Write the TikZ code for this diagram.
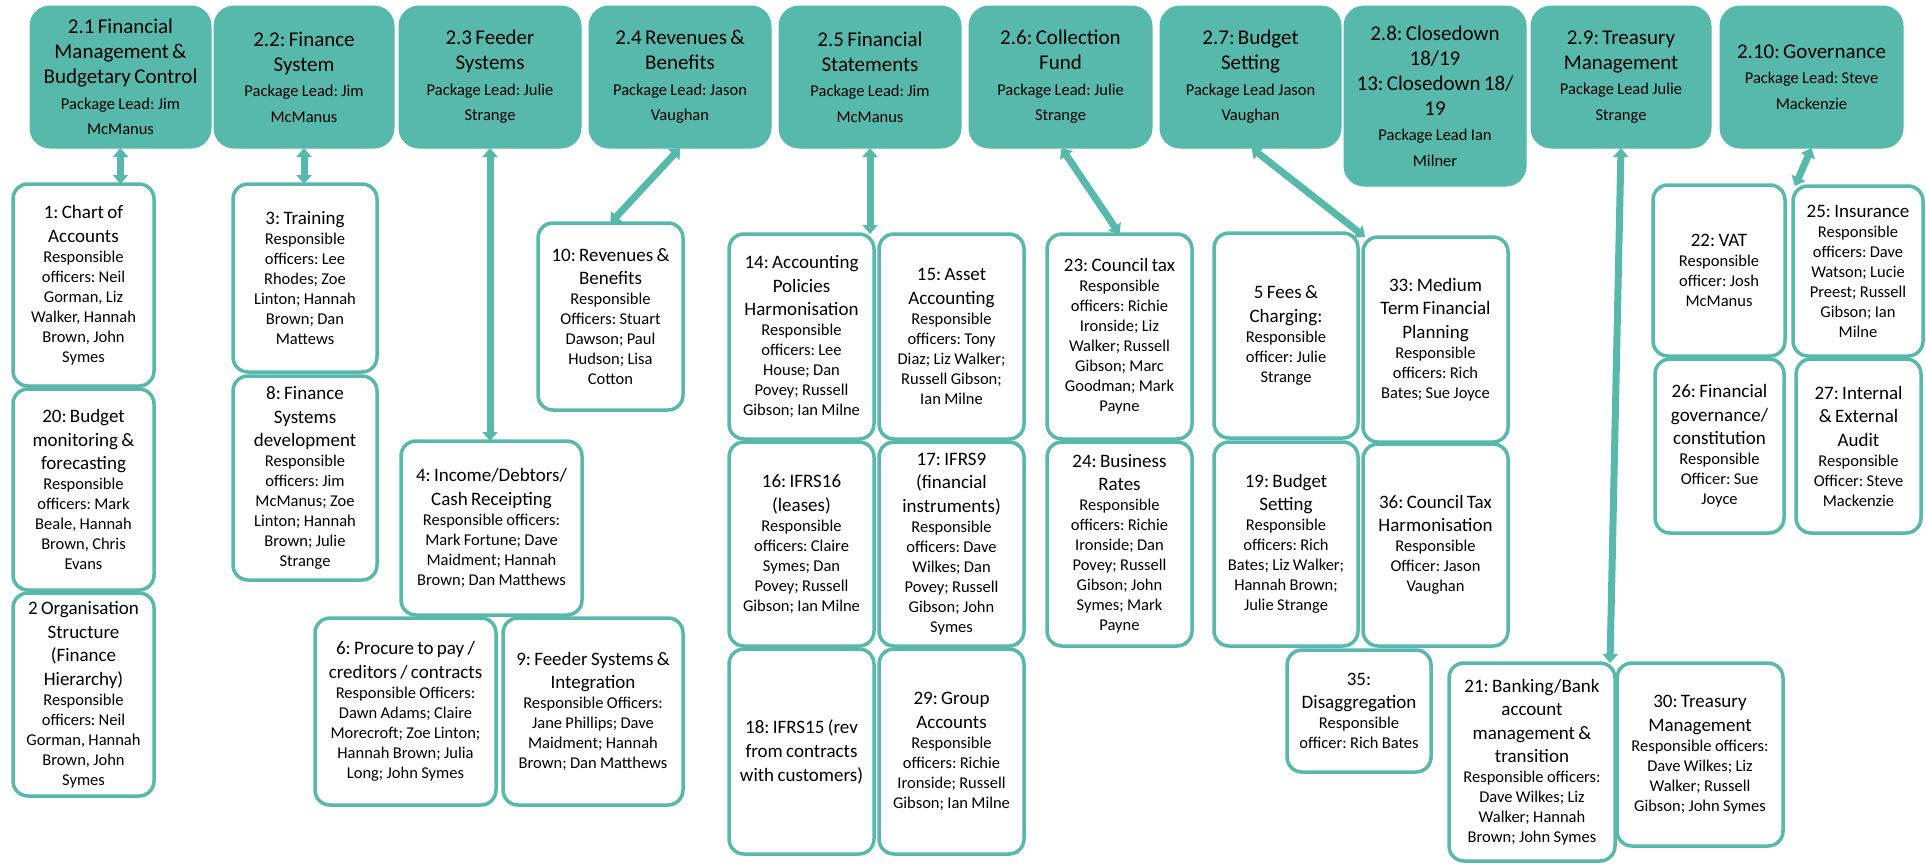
\documentclass[tikz,border=0pt]{standalone}
\usepackage{fontspec}
\setmainfont{Carlito}
\usetikzlibrary{arrows.meta}
\definecolor{teal0}{RGB}{86,185,172}
\frenchspacing

% text of a work package box: title lines, then the responsible officers
\newcommand{\ptxt}[2]{\fontsize{19}{23.5}\selectfont #1\par\fontsize{16.5}{20}\selectfont #2\par}
% text of a package header: title lines, then the package lead
\newcommand{\htxt}[2]{\fontsize{21}{25}\selectfont #1\par\fontsize{16.5}{25.5}\selectfont #2\par}

% \pkg[style]{name}{x1}{y1}{x2}{y2}{text}: a box spanning the given corners
\newcommand{\pkg}[7][]{%
  \pgfmathsetmacro{\pkW}{#5-#3}%
  \pgfmathsetmacro{\pkH}{#6-#4}%
  \pgfmathsetmacro{\pkX}{(#3+#5)/2}%
  \pgfmathsetmacro{\pkY}{(#4+#6)/2}%
  \pgfmathsetmacro{\pkT}{#5-#3-6}%
  \node[#1, minimum width=\pkW pt, minimum height=\pkH pt, text width=\pkT pt] (#2) at (\pkX,\pkY) {#7};}

\tikzset{
  basebox/.style={align=center, inner sep=1pt, outer sep=0pt},
  headbox/.style={basebox, fill=teal0, draw=teal0, line width=1pt, rounded corners=20pt},
  workbox/.style={basebox, fill=white, draw=teal0, line width=3.5pt, rounded corners=15pt},
  link/.style={draw=teal0, line width=7pt,
    {Triangle[width=15pt,length=9pt]}-{Triangle[width=15pt,length=9pt]}}
}

\begin{document}
\begin{tikzpicture}[x=1pt,y=-1pt]
\useasboundingbox (0,0) rectangle (1926,865);

% package headers
\pkg[headbox]{h21}{30}{6}{211}{148}{\htxt{2.1 Financial\\Management \&\\Budgetary Control}{Package Lead: Jim\\McManus}}
\pkg[headbox]{h22}{214}{6}{394}{148}{\htxt{2.2: Finance\\System}{Package Lead: Jim\\McManus}}
\pkg[headbox]{h23}{399}{6}{581}{148}{\htxt{2.3 Feeder\\Systems}{Package Lead: Julie\\Strange}}
\pkg[headbox]{h24}{589}{6}{771}{148}{\htxt{2.4 Revenues \&\\Benefits}{Package Lead: Jason\\Vaughan}}
\pkg[headbox]{h25}{779}{6}{961}{148}{\htxt{2.5 Financial\\Statements}{Package Lead: Jim\\McManus}}
\pkg[headbox]{h26}{969}{6}{1152}{148}{\htxt{2.6: Collection\\Fund}{Package Lead: Julie\\Strange}}
\pkg[headbox]{h27}{1160}{6}{1341}{148}{\htxt{2.7: Budget\\Setting}{Package Lead Jason\\Vaughan}}
\pkg[headbox]{h28}{1344}{6}{1526}{186}{\htxt{2.8: Closedown\\18/19\\13: Closedown 18/\\19}{Package Lead Ian\\Milner}}
\pkg[headbox]{h29}{1531}{6}{1711}{148}{\htxt{2.9: Treasury\\Management}{Package Lead Julie\\Strange}}
\pkg[headbox]{h210}{1720}{6}{1903}{148}{\htxt{2.10: Governance}{Package Lead: Steve\\Mackenzie}}

% 2.1 work packages
\pkg[workbox]{b1}{13}{184}{154}{386}{\ptxt{1: Chart of\\Accounts}{Responsible\\officers: Neil\\Gorman, Liz\\Walker, Hannah\\Brown, John\\Symes}}
\pkg[workbox]{b20}{13}{389}{154}{590}{\ptxt{20: Budget\\monitoring \&\\forecasting}{Responsible\\officers: Mark\\Beale, Hannah\\Brown, Chris\\Evans}}
\pkg[workbox]{b2}{13}{593}{154}{796}{\ptxt{2 Organisation\\Structure\\(Finance\\Hierarchy)}{Responsible\\officers: Neil\\Gorman, Hannah\\Brown, John\\Symes}}

% 2.2 work packages
\pkg[workbox]{b3}{233}{184}{377}{372}{\ptxt{3: Training}{Responsible\\officers: Lee\\Rhodes; Zoe\\Linton; Hannah\\Brown; Dan\\Mattews}}
\pkg[workbox]{b8}{233}{376}{377}{580}{\ptxt{8: Finance\\Systems\\development}{Responsible\\officers: Jim\\McManus; Zoe\\Linton; Hannah\\Brown; Julie\\Strange}}

% 2.3 work packages
\pkg[workbox]{b4}{401}{441}{582}{615}{\ptxt{4: Income/Debtors/\\Cash Receipting}{Responsible officers:\\Mark Fortune; Dave\\Maidment; Hannah\\Brown; Dan Matthews}}
\pkg[workbox]{b6}{315}{618}{496}{805}{\ptxt{6: Procure to pay /\\creditors / contracts}{Responsible Officers:\\Dawn Adams; Claire\\Morecroft; Zoe Linton;\\Hannah Brown; Julia\\Long; John Symes}}
\pkg[workbox]{b9}{503}{618}{683}{805}{\ptxt{9: Feeder Systems \&\\Integration}{Responsible Officers:\\Jane Phillips; Dave\\Maidment; Hannah\\Brown; Dan Matthews}}

% 2.4 work package
\pkg[workbox]{b10}{538}{223}{683}{410}{\ptxt{10: Revenues \&\\Benefits}{Responsible\\Officers: Stuart\\Dawson; Paul\\Hudson; Lisa\\Cotton}}

% 2.5 work packages
\pkg[workbox]{b14}{729}{234}{874}{439}{\ptxt{14: Accounting\\Policies\\Harmonisation}{Responsible\\officers: Lee\\House; Dan\\Povey; Russell\\Gibson; Ian Milne}}
\pkg[workbox]{b15}{879}{234}{1024}{439}{\ptxt{15: Asset\\Accounting}{Responsible\\officers: Tony\\Diaz; Liz Walker;\\Russell Gibson;\\Ian Milne}}
\pkg[workbox]{b16}{729}{442}{874}{646}{\ptxt{16: IFRS16\\(leases)}{Responsible\\officers: Claire\\Symes; Dan\\Povey; Russell\\Gibson; Ian Milne}}
\pkg[workbox]{b17}{879}{442}{1024}{646}{\ptxt{17: IFRS9\\(financial\\instruments)}{Responsible\\officers: Dave\\Wilkes; Dan\\Povey; Russell\\Gibson; John\\Symes}}
\pkg[workbox]{b18}{729}{649}{874}{854}{\fontsize{19}{24}\selectfont 18: IFRS15 (rev\\from contracts\\with customers)\par}
\pkg[workbox]{b29}{879}{649}{1024}{854}{\ptxt{29: Group\\Accounts}{Responsible\\officers: Richie\\Ironside; Russell\\Gibson; Ian Milne}}

% 2.6 work packages
\pkg[workbox]{b23}{1047}{234}{1192}{439}{\ptxt{23: Council tax}{Responsible\\officers: Richie\\Ironside; Liz\\Walker; Russell\\Gibson; Marc\\Goodman; Mark\\Payne}}
\pkg[workbox]{b24}{1047}{442}{1192}{646}{\ptxt{24: Business\\Rates}{Responsible\\officers: Richie\\Ironside; Dan\\Povey; Russell\\Gibson; John\\Symes; Mark\\Payne}}

% 2.7 work packages
\pkg[workbox]{b5}{1214}{233}{1358}{438}{\ptxt{5 Fees \&\\Charging:}{Responsible\\officer: Julie\\Strange}}
\pkg[workbox]{b19}{1214}{442}{1358}{646}{\ptxt{19: Budget\\Setting}{Responsible\\officers: Rich\\Bates; Liz Walker;\\Hannah Brown;\\Julie Strange}}
\pkg[workbox]{b33}{1363}{237}{1508}{442}{\ptxt{33: Medium\\Term Financial\\Planning}{Responsible\\officers: Rich\\Bates; Sue Joyce}}
\pkg[workbox]{b36}{1363}{444}{1508}{646}{\ptxt{36: Council Tax\\Harmonisation}{Responsible\\Officer: Jason\\Vaughan}}
\pkg[workbox]{b35}{1287}{650}{1431}{772}{\ptxt{35:\\Disaggregation}{Responsible\\officer: Rich Bates}}

% 2.9 work packages
\pkg[workbox]{b21}{1449}{663}{1615}{861}{\ptxt{21: Banking/Bank\\account\\management \&\\transition}{Responsible officers:\\Dave Wilkes; Liz\\Walker; Hannah\\Brown; John Symes}}
\pkg[workbox]{b30}{1617}{663}{1783}{846}{\ptxt{30: Treasury\\Management}{Responsible officers:\\Dave Wilkes; Liz\\Walker; Russell\\Gibson; John Symes}}

% 2.10 work packages
\pkg[workbox]{b22}{1653}{185}{1785}{356}{\ptxt{22: VAT}{Responsible\\officer: Josh\\McManus}}
\pkg[workbox]{b25}{1793}{186}{1923}{356}{\ptxt{25: Insurance}{Responsible\\officers: Dave\\Watson; Lucie\\Preest; Russell\\Gibson; Ian\\Milne}}
\pkg[workbox]{b26}{1655}{359}{1784}{533}{\ptxt{26: Financial\\governance/\\constitution}{Responsible\\Officer: Sue\\Joyce}}
\pkg[workbox]{b27}{1796}{359}{1921}{533}{\ptxt{27: Internal\\\& External\\Audit}{Responsible\\Officer: Steve\\Mackenzie}}

% links between packages and their work packages
\draw[link] (h21.south) -- (h21.south |- b1.north);
\draw[link] (h22.south) -- (h22.south |- b3.north);
\draw[link] (h23.south) -- (h23.south |- b4.north);
\draw[link] (h24.south) -- (b10.north);
\draw[link] (h25.south) -- (h25.south |- b14.north);
\draw[link] ([xshift=1pt]h26.south) -- (b23.north);
\draw[link] ([xshift=1pt]h27.south) -- ([xshift=2pt]b33.north west);
\draw[link] (h29.south) -- ([xshift=-5pt]b21.north east);
\draw[link] (h210.south) -- ([xshift=2pt]b25.north west);
\end{tikzpicture}
\end{document}
